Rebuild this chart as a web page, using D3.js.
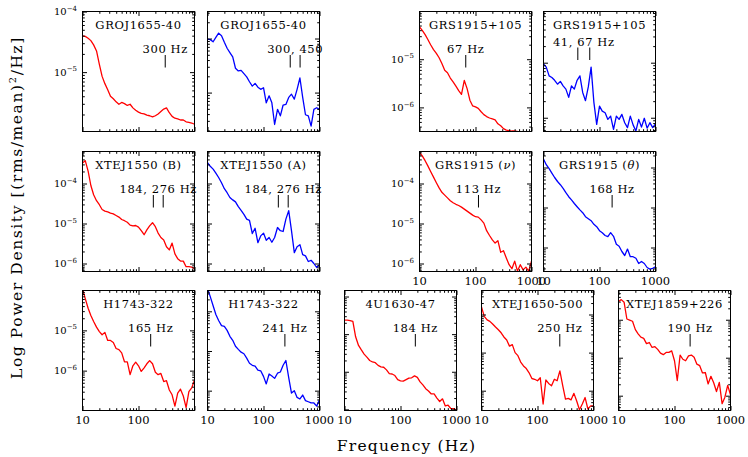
<!DOCTYPE html>
<html>
<head>
<meta charset="utf-8">
<script src="https://cdn.jsdelivr.net/npm/d3@7"></script>
<style>
  html, body { margin: 0; padding: 0; background: #fff; }
  svg { display: block; }
  text { font-family: "DejaVu Serif", serif; fill: #000; }
</style>
</head>
<body>
<svg id="chart" width="748" height="457"></svg>
<script>
// Frequency bin centres (Hz), logarithmic rebinning 10 - 1000 Hz
const freqHz = [10, 11.2, 12.6, 14.1, 15.8, 17.8, 20, 22.4, 25.1, 28.2, 31.6, 35.5, 39.8, 44.7, 50.1,
  56.2, 63.1, 70.8, 79.4, 89.1, 100, 112, 126, 141, 158, 178, 200, 224, 251, 282, 316, 355, 398,
  447, 501, 562, 631, 708, 794, 891, 1000];

// log10 power density [(rms/mean)^2/Hz] in each bin
const groRed = [-4.40, -4.41, -4.44, -4.48, -4.55, -4.65, -4.87, -5.07, -5.19, -5.29, -5.40, -5.44, -5.49, -5.53,
  -5.50, -5.52, -5.55, -5.53, -5.59, -5.63, -5.66, -5.68, -5.69, -5.71, -5.72, -5.74, -5.72, -5.69, -5.65,
  -5.61, -5.59, -5.67, -5.73, -5.76, -5.77, -5.79, -5.79, -5.82, -5.83, -5.84, -5.86];
const groBlue = [-4.01, -4.02, -4.06, -3.98, -3.90, -3.95, -4.07, -4.18, -4.26, -4.34, -4.55, -4.60, -4.59, -4.65,
  -4.71, -4.80, -4.88, -4.83, -4.90, -4.94, -4.91, -5.19, -5.06, -5.19, -5.59, -5.31, -5.43, -5.23, -5.22,
  -5.09, -5.03, -5.12, -4.94, -4.73, -5.09, -5.41, -5.43, -5.62, -5.31, -5.28, -5.31];
const grsRed = [-4.33, -4.40, -4.49, -4.59, -4.70, -4.80, -4.88, -4.97, -5.09, -5.23, -5.28, -5.39, -5.47, -5.56,
  -5.65, -5.73, -5.44, -5.61, -5.85, -5.97, -5.99, -6.02, -6.09, -6.15, -6.19, -6.22, -6.24, -6.26, -6.34,
  -6.38, -6.44, -6.47, -6.48, -6.49, -6.49, -6.50, -6.52, -6.55, -6.58, -6.60, -6.62];
const grsBlue = [-5.02, -5.08, -5.24, -5.27, -5.32, -5.39, -5.34, -5.42, -5.48, -5.63, -5.42, -5.48, -5.32, -5.24,
  -5.54, -5.69, -5.44, -5.08, -5.72, -6.12, -5.79, -5.88, -5.91, -6.03, -5.97, -6.21, -5.97, -6.03, -5.94,
  -6.09, -6.18, -5.97, -6.13, -6.24, -6.03, -6.17, -6.01, -6.19, -6.09, -6.18, -6.11];
const xteB = [-3.49, -3.43, -3.69, -4.05, -4.28, -4.43, -4.53, -4.65, -4.69, -4.71, -4.74, -4.76, -4.80, -4.84,
  -4.90, -4.93, -4.97, -5.04, -5.06, -5.05, -5.09, -5.18, -5.28, -5.16, -5.06, -4.98, -5.08, -5.24, -5.35,
  -5.41, -5.58, -5.66, -5.49, -5.76, -5.88, -5.94, -5.94, -6.08, -6.08, -6.09, -6.13];
const xteA = [-3.48, -3.57, -3.64, -3.74, -3.85, -3.98, -4.13, -4.23, -4.35, -4.41, -4.46, -4.58, -4.67, -4.77,
  -4.89, -4.92, -5.25, -5.12, -5.48, -5.31, -5.24, -5.42, -5.35, -5.47, -5.35, -5.10, -5.18, -5.20, -4.89,
  -4.68, -5.18, -5.73, -5.58, -5.53, -5.78, -5.81, -5.95, -5.92, -6.00, -6.10, -6.03];
const grsNu = [-3.22, -3.31, -3.43, -3.56, -3.70, -3.84, -3.98, -4.11, -4.22, -4.29, -4.36, -4.43, -4.48, -4.52,
  -4.55, -4.59, -4.64, -4.69, -4.74, -4.79, -4.83, -4.84, -4.91, -4.99, -5.18, -5.30, -5.41, -5.49, -5.43,
  -5.72, -5.68, -5.86, -6.03, -6.13, -5.94, -6.19, -6.03, -6.16, -6.09, -6.19, -5.94];
const grsTheta = [-3.79, -3.93, -4.03, -4.14, -4.25, -4.35, -4.43, -4.52, -4.63, -4.73, -4.81, -4.90, -4.98, -5.06,
  -5.13, -5.23, -5.28, -5.33, -5.42, -5.48, -5.58, -5.63, -5.70, -5.73, -5.63, -5.72, -5.92, -5.97, -6.10,
  -6.20, -6.04, -6.23, -6.23, -6.27, -6.40, -6.35, -6.40, -6.50, -6.54, -6.52, -6.48];
const h1743Red = [-3.96, -4.21, -4.45, -4.63, -4.78, -4.92, -5.03, -5.11, -5.05, -5.25, -5.25, -5.30, -5.45, -5.48,
  -5.56, -5.78, -5.78, -6.10, -5.88, -5.79, -5.88, -6.02, -5.93, -5.83, -5.75, -5.83, -6.04, -6.10, -6.07,
  -6.27, -6.25, -6.48, -6.60, -6.88, -6.56, -6.46, -6.63, -6.92, -6.52, -6.43, -6.23];
const h1743Blue = [-4.42, -4.63, -4.86, -5.08, -5.23, -5.36, -5.38, -5.48, -5.63, -5.73, -5.88, -5.96, -6.03, -6.07,
  -6.18, -6.31, -6.36, -6.38, -6.48, -6.50, -6.64, -6.83, -6.58, -6.63, -6.69, -6.56, -6.53, -6.36, -6.24,
  -6.67, -7.06, -7.00, -7.17, -7.21, -7.11, -7.25, -7.28, -7.31, -7.31, -7.39, -7.23];
const u1630 = [-4.63, -4.63, -4.64, -4.66, -5.07, -5.30, -5.42, -5.53, -5.61, -5.70, -5.74, -5.76, -5.83, -5.87,
  -5.88, -5.95, -6.05, -6.06, -6.10, -6.21, -6.24, -6.25, -6.21, -6.17, -6.16, -6.11, -6.15, -6.27, -6.35,
  -6.45, -6.51, -6.59, -6.59, -6.70, -6.79, -6.72, -6.91, -6.89, -6.98, -6.98, -7.02];
const xte1650 = [-3.80, -4.05, -4.14, -4.18, -4.25, -4.33, -4.40, -4.48, -4.59, -4.67, -4.83, -4.79, -5.00, -5.08,
  -5.25, -5.35, -5.42, -5.53, -5.68, -5.70, -5.74, -5.66, -6.35, -5.72, -5.81, -5.87, -5.70, -5.74, -5.48,
  -5.87, -6.22, -6.20, -6.24, -6.07, -6.27, -6.50, -6.35, -6.18, -6.48, -6.40, -6.40];
const xte1859 = [-3.52, -3.47, -3.54, -3.98, -4.01, -4.04, -4.26, -4.37, -4.46, -4.49, -4.63, -4.60, -4.73, -4.71,
  -4.78, -4.88, -4.92, -4.86, -4.86, -4.82, -5.08, -5.60, -4.93, -5.04, -5.08, -4.95, -4.93, -4.99, -5.17,
  -5.21, -5.40, -5.39, -5.69, -5.49, -5.66, -5.89, -5.65, -6.21, -6.04, -5.73, -5.98];

// Panel contents
const titles = ["GROJ1655-40", "GROJ1655-40", "GRS1915+105", "GRS1915+105",
  "XTEJ1550 (B)", "XTEJ1550 (A)", "GRS1915 (\u03BD)", "GRS1915 (\u03B8)",
  "H1743-322", "H1743-322", "4U1630-47", "XTEJ1650-500", "XTEJ1859+226"];
const series = [groRed, groBlue, grsRed, grsBlue, xteB, xteA, grsNu, grsTheta,
  h1743Red, h1743Blue, u1630, xte1650, xte1859];
const seriesColor = ["#ff0000", "#0000ff", "#ff0000", "#0000ff", "#ff0000", "#0000ff", "#ff0000", "#0000ff",
  "#ff0000", "#0000ff", "#ff0000", "#ff0000", "#ff0000"];
const qpoHz = [[300], [300, 450], [67], [41, 67], [184, 276], [184, 276], [113], [168],
  [165], [241], [184], [250], [190]];
const qpoText = ["300 Hz", "300, 450", "67 Hz", "41, 67 Hz", "184, 276 Hz", "184, 276 Hz", "113 Hz", "168 Hz",
  "165 Hz", "241 Hz", "184 Hz", "250 Hz", "190 Hz"];
// log10 range of each power axis
const yLogRange = [[-5.98, -3.999], [-5.72, -3.5], [-6.5, -4.01], [-6.25, -4.07],
  [-6.2, -3.2], [-6.2, -3.2], [-6.2, -3.2], [-6.6, -3.6],
  [-6.99, -4.01], [-7.5, -4.475], [-7.03, -3.84], [-6.52, -3.37], [-6.39, -3.23]];
// labelled decades (exponents) on the power axis
const yTickExp = [[-4, -5], [], [-5, -6], [], [-4, -5, -6], [], [-4, -5, -6], [], [-5, -6], [], [], [], []];
// labelled frequencies
const xTickHz = [[], [], [], [], [], [], [10, 100, 1000], [10, 100, 1000],
  [10, 100], [10, 100, 1000], [10, 100, 1000], [10, 100, 1000], [10, 100, 1000]];
const freqDomain = [10, 1000];
const majorHz = [10, 100, 1000];
const minorHz = [20, 30, 40, 50, 60, 70, 80, 90, 200, 300, 400, 500, 600, 700, 800, 900];

// Layout
const panelLeft = [82.5, 207.5, 419.5, 543.5, 82.5, 207.5, 419.5, 543.5, 82.5, 207.5, 344.5, 481.5, 618.5];
const panelTop = [11.5, 11.5, 11.5, 11.5, 151.5, 151.5, 151.5, 151.5, 290.5, 290.5, 290.5, 290.5, 290.5];
const qpoLabelBase = [41.5, 41.5, 41.5, 34, 41.5, 41.5, 41.5, 41.5, 41.5, 41.5, 41.5, 41.5, 41.5];
const PW = 112, PH = 120;
const majorLen = 4.5, minorLen = 2.3;

const svg = d3.select("#chart");

function addTitle(sel, str) {
  // Greek letters set in italic
  const parts = str.split(/([\u03B8\u03BD])/);
  parts.forEach(p => {
    if (!p) return;
    const t = sel.append("tspan").text(p);
    if (/[\u03B8\u03BD]/.test(p)) t.attr("font-style", "italic");
  });
}

titles.forEach((title, i) => {
  const g = svg.append("g").attr("transform", `translate(${panelLeft[i]},${panelTop[i]})`);
  const x = d3.scaleLog().domain(freqDomain).range([0, PW]);
  const y = d3.scaleLog().domain([10 ** yLogRange[i][0], 10 ** yLogRange[i][1]]).range([PH, 0]);

  // spectrum
  const clipId = "clip" + i;
  g.append("clipPath").attr("id", clipId)
    .append("rect").attr("x", 0).attr("y", 0).attr("width", PW).attr("height", PH);
  const line = d3.line()
    .x(d => x(d[0]))
    .y(d => y(10 ** d[1]));
  g.append("path")
    .datum(d3.zip(freqHz, series[i]))
    .attr("clip-path", `url(#${clipId})`)
    .attr("fill", "none")
    .attr("stroke", seriesColor[i])
    .attr("stroke-width", 1.3)
    .attr("stroke-linejoin", "round")
    .attr("d", line);

  // inward ticks on all four sides
  const yt = y.ticks();
  const isMajor = v => Math.abs(Math.log10(v) - Math.round(Math.log10(v))) < 1e-6;
  const yMajor = yt.filter(isMajor), yMinor = yt.filter(v => !isMajor(v));
  const sides = [
    [d3.axisBottom(x), `translate(0,${PH})`, majorHz, minorHz],
    [d3.axisTop(x), "translate(0,0)", majorHz, minorHz],
    [d3.axisLeft(y), "translate(0,0)", yMajor, yMinor],
    [d3.axisRight(y), `translate(${PW},0)`, yMajor, yMinor]
  ];
  sides.forEach(([axis, tr, maj, min]) => {
    [[maj, majorLen], [min, minorLen]].forEach(([vals, len]) => {
      const a = g.append("g").attr("transform", tr)
        .call(axis.tickValues(vals).tickSizeInner(-len).tickSizeOuter(0).tickFormat(""));
      a.select(".domain").remove();
      a.selectAll("line").attr("stroke", "#000").attr("stroke-width", 1);
    });
  });

  // frame
  g.append("rect").attr("x", 0).attr("y", 0).attr("width", PW).attr("height", PH)
    .attr("fill", "none").attr("stroke", "#000").attr("stroke-width", 1);

  // source name
  addTitle(g.append("text")
    .attr("x", PW / 2).attr("y", 17)
    .attr("text-anchor", "middle")
    .attr("font-size", 11.5)
    .attr("letter-spacing", "0.6px"), title);

  // QPO markers
  const qx = qpoHz[i].map(q => x(q));
  const base = qpoLabelBase[i];
  qx.forEach(px => {
    g.append("line").attr("x1", px).attr("x2", px)
      .attr("y1", base + 2).attr("y2", base + 14.5)
      .attr("stroke", "#000").attr("stroke-width", 1);
  });
  g.append("text")
    .attr("x", d3.mean(qx)).attr("y", base)
    .attr("text-anchor", "middle")
    .attr("font-size", 11.5)
    .attr("letter-spacing", "0.6px")
    .text(qpoText[i]);

  // frequency labels
  xTickHz[i].forEach(f => {
    g.append("text")
      .attr("x", x(f)).attr("y", PH + 13.5)
      .attr("text-anchor", "middle")
      .attr("font-size", 11.5)
      .text(f);
  });

  // power labels
  yTickExp[i].forEach(e => {
    const t = g.append("text")
      .attr("x", -5.5).attr("y", y(10 ** e) + 3.6)
      .attr("text-anchor", "end")
      .attr("font-size", 10);
    t.append("tspan").text("10");
    t.append("tspan").attr("font-size", 7).attr("dy", -4.5).text("\u2212" + Math.abs(e));
  });
});

// axis titles
svg.append("text")
  .attr("x", 406.5).attr("y", 451)
  .attr("text-anchor", "middle")
  .attr("font-size", 15.5)
  .attr("letter-spacing", "1.2px")
  .text("Frequency (Hz)");

const yTitle = svg.append("text")
  .attr("transform", "translate(21.5,207.5) rotate(-90)")
  .attr("text-anchor", "middle")
  .attr("font-size", 15.5)
  .attr("letter-spacing", "1.6px");
yTitle.append("tspan").text("Log Power Density [(rms/mean)");
yTitle.append("tspan").attr("font-size", 10).attr("dy", -6).text("2");
yTitle.append("tspan").attr("dy", 6).text("/Hz]");
</script>
</body>
</html>
